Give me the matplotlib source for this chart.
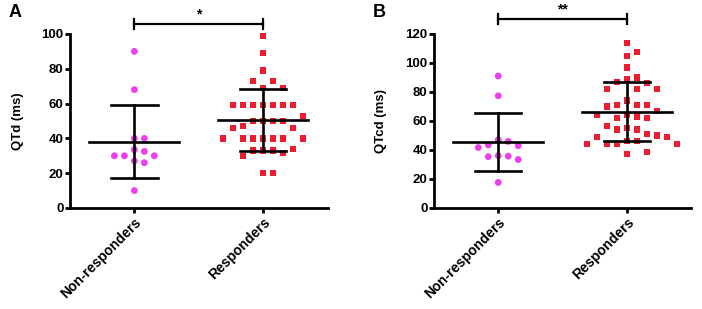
import numpy as np
import matplotlib
matplotlib.use("Agg")
import matplotlib.pyplot as plt

plt.rcParams["font.family"] = ["Liberation Sans", "DejaVu Sans"]
plt.rcParams["font.weight"] = "bold"

# ---------------- DATA ----------------
groups = ["Non-responders", "Responders"]

qtd_non = [90, 68, 40, 40, 33.5, 32.5, 30, 30, 30, 27, 26, 10]
qtd_resp = [99, 89, 79, 73, 73, 69, 69, 59, 59, 59, 59, 59, 59, 59, 53,
            50, 50, 50, 50, 47, 46, 46, 40, 40, 40, 40, 40, 40, 40,
            33, 33, 30, 31.5, 33, 34, 20, 20]

qtcd_non = [91, 77.4, 47, 43.5, 41.7, 42.9, 45.9, 36.1, 35.4, 33.4, 35.7, 17.6]
qtcd_resp = [114, 107.5, 105, 97, 89, 90, 87, 86, 82, 82, 82, 74, 71, 70,
             71, 71, 67, 64, 63, 64, 62, 62, 55, 54, 54, 56.5, 51, 49, 49,
             50, 46, 46, 44, 44, 44, 44, 37, 38.5]

panels = [
    ("A", "QTd (ms)", [qtd_non, qtd_resp], 100, "*"),
    ("B", "QTcd (ms)", [qtcd_non, qtcd_resp], 120, "**"),
]

MAGENTA = "#EE3FEE"
RED = "#EE1C2E"


def swarm(values, ypx, xpx, dx=10.0, dy=11.5):
    """greedy beeswarm, returns x offsets in data units"""
    order = np.argsort(values)[::-1]
    placed = []
    offsets = np.zeros(len(values))
    for i in order:
        y = values[i] * ypx
        k = 0
        while True:
            cand = [0] if k == 0 else [k, -k]
            ok = None
            for c in cand:
                x = c * dx
                if all(((x - px) / dx) ** 2 + ((y - py) / dy) ** 2 >= 0.9
                       for px, py in placed):
                    ok = x
                    break
            if ok is not None:
                placed.append((ok, y))
                offsets[i] = ok / xpx
                break
            k += 1
    return offsets


fig = plt.figure(figsize=(7.02, 3.09), dpi=100)
lefts = [0.0997, 0.618]

for (letter, ylabel, data, ymax, star), left in zip(panels, lefts):
    ax = fig.add_axes([left, 0.327, 0.367, 0.563])
    ax.set_xlim(0.5, 2.5)
    ax.set_ylim(0, ymax)
    ypx = 174 / ymax
    xpx = 129.0

    for pos, (vals, color, marker) in enumerate(
            zip(data, [MAGENTA, RED], ["o", "s"]), start=1):
        vals = np.array(vals, dtype=float)
        off = swarm(vals, ypx, xpx)
        ax.scatter(pos + off, vals, s=24 if marker == "o" else 21,
                   marker=marker, color=color, edgecolors="none", zorder=2,
                   clip_on=False)
        m = vals.mean()
        sd = vals.std(ddof=1)
        ax.plot([pos - 0.35, pos + 0.35], [m, m], color="black", lw=1.9, zorder=3)
        ax.plot([pos, pos], [m - sd, m + sd], color="black", lw=1.9, zorder=3)
        for v in (m - sd, m + sd):
            ax.plot([pos - 0.18, pos + 0.18], [v, v], color="black", lw=1.9, zorder=3)

    # significance bar
    yb = ymax * 1.057 if ymax == 100 else ymax * 1.085
    ax.plot([1, 2], [yb, yb], color="black", lw=1.6, clip_on=False)
    for xe in (1, 2):
        ax.plot([xe, xe], [yb - ymax * 0.028, yb + ymax * 0.028],
                color="black", lw=1.6, clip_on=False)
    ax.text(1.5, yb + ymax * 0.015, star, ha="center", va="bottom",
            fontsize=10, fontweight="bold")

    for sp in ["top", "right"]:
        ax.spines[sp].set_visible(False)
    for sp in ["left", "bottom"]:
        ax.spines[sp].set_linewidth(2)
    ax.set_yticks(np.arange(0, ymax + 1, 20))
    ax.set_xticks([1, 2])
    ax.set_xticklabels(groups, rotation=45, ha="right", rotation_mode="anchor",
                       fontsize=10, fontweight="bold")
    ax.tick_params(axis="y", length=3.5, width=2, labelsize=9.5, pad=1)
    ax.tick_params(axis="x", length=3.5, width=2, pad=2)
    for lab in ax.get_yticklabels():
        lab.set_fontweight("bold")
    ax.set_ylabel(ylabel, fontsize=9.5, fontweight="bold", labelpad=13)
    ax.patch.set_alpha(0)

    fig.text(left - 0.087, 0.96, letter, fontsize=13, fontweight="bold",
             ha="left", va="center")

fig.savefig("out.png", dpi=100)
plt.close(fig)
